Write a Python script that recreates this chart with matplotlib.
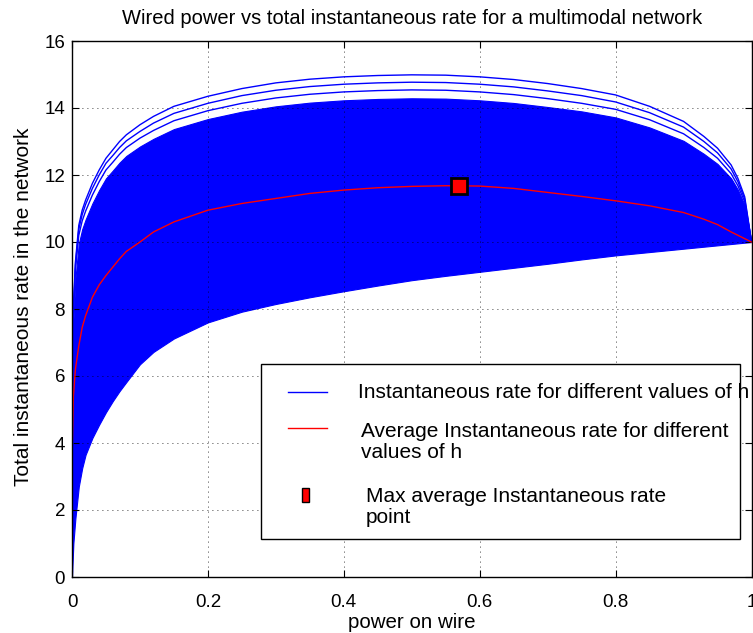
import matplotlib
matplotlib.use("Agg")
import matplotlib.pyplot as plt
from matplotlib.patches import Rectangle
from matplotlib.lines import Line2D

plt.rcParams['font.family'] = ['Liberation Sans', 'DejaVu Sans']

# power on wire (sample points)
power = [0, 0.002, 0.005, 0.01, 0.015, 0.02, 0.03, 0.04, 0.05, 0.06, 0.07, 0.08,
         0.1, 0.12, 0.15, 0.2, 0.25, 0.3, 0.35, 0.4, 0.45, 0.5,
         0.55, 0.6, 0.65, 0.7, 0.75, 0.8, 0.85, 0.9, 0.93, 0.95, 0.97, 0.98,
         0.99, 1.0]

# bottom edge of the bundle of instantaneous-rate curves
rate_low = [0, 1.0, 1.75, 2.7, 3.25, 3.65, 4.15, 4.55, 4.92, 5.25, 5.55, 5.82,
            6.35, 6.72, 7.12, 7.6, 7.92, 8.15, 8.35, 8.53, 8.7, 8.86,
            8.99, 9.11, 9.23, 9.35, 9.48, 9.6, 9.7, 9.8, 9.86, 9.9, 9.94, 9.96,
            9.98, 10.0]
# top edge of the dense part of the bundle
rate_dense = [0, 7.6, 8.9, 9.95, 10.38, 10.67, 11.15, 11.55, 11.9, 12.13, 12.37, 12.57,
              12.85, 13.08, 13.37, 13.67, 13.89, 14.05, 14.16, 14.23, 14.27, 14.29,
              14.28, 14.23, 14.15, 14.03, 13.9, 13.72, 13.42, 13.02, 12.63, 12.33,
              11.9, 11.56, 11.1, 10.0]
# single outer curves above the dense part
rate_top1 = [0, 8.0, 9.4, 10.5, 10.95, 11.25, 11.75, 12.15, 12.5, 12.75, 13.0, 13.2,
             13.5, 13.75, 14.05, 14.35, 14.58, 14.75, 14.86, 14.93, 14.97, 14.99,
             14.98, 14.93, 14.85, 14.73, 14.58, 14.39, 14.05, 13.6, 13.15, 12.8,
             12.3, 11.9, 11.35, 10.0]
rate_top2 = [0, 7.9, 9.3, 10.38, 10.82, 11.12, 11.6, 12.0, 12.35, 12.58, 12.82, 13.02,
             13.3, 13.55, 13.84, 14.14, 14.37, 14.53, 14.64, 14.71, 14.75, 14.77,
             14.76, 14.71, 14.63, 14.51, 14.37, 14.18, 13.86, 13.43, 13.0, 12.66,
             12.18, 11.8, 11.28, 10.0]
rate_top3 = [0, 7.8, 9.15, 10.2, 10.63, 10.92, 11.4, 11.8, 12.15, 12.38, 12.62, 12.82,
             13.1, 13.33, 13.62, 13.92, 14.14, 14.3, 14.41, 14.48, 14.52, 14.54,
             14.53, 14.48, 14.4, 14.28, 14.14, 13.96, 13.65, 13.23, 12.82, 12.5,
             12.04, 11.68, 11.2, 10.0]
# average instantaneous rate over h
rate_avg = [3.5, 5.4, 6.2, 6.9, 7.45, 7.8, 8.35, 8.72, 9.0, 9.25, 9.5, 9.72,
            10.0, 10.3, 10.6, 10.95, 11.15, 11.3, 11.45, 11.55, 11.62, 11.66,
            11.68, 11.67, 11.6, 11.48, 11.36, 11.23, 11.08, 10.88, 10.68, 10.52,
            10.3, 10.2, 10.1, 10.0]
# maximum of the average curve
p_max = 0.57
r_max = 11.68

fig = plt.figure(figsize=(7.53, 6.33), dpi=100)
ax = fig.add_axes([72 / 753, 56 / 633, 679.5 / 753, 536 / 633])

ax.fill_between(power, rate_low, rate_dense, color='#0000ff', lw=0.8,
                edgecolor='#0000ff')
for curve in (rate_top1, rate_top2, rate_top3):
    ax.plot(power, curve, color='#0000ff', lw=1.0)
ax.plot(power, rate_avg, color='#ff0000', lw=1.0)
ax.plot([p_max], [r_max], 's', ms=12, mfc='#ff0000', mec='black', mew=2)

ax.set_xlim(0, 1)
ax.set_ylim(0, 16)
ax.set_xticks([0, 0.2, 0.4, 0.6, 0.8, 1])
ax.set_xticklabels(['0', '0.2', '0.4', '0.6', '0.8', '1'])
ax.set_yticks(range(0, 17, 2))
ax.tick_params(direction='in', top=True, right=True, length=5, labelsize=13.5)
ax.tick_params(axis='x', pad=12)
ax.tick_params(axis='y', pad=5)
ax.grid(True, color='black', linestyle=(0, (1, 5)), linewidth=0.6)
for s in ax.spines.values():
    s.set_linewidth(1.0)

ax.set_title('Wired power vs total instantaneous rate for a multimodal network',
             fontsize=14.5, pad=12)
ax.set_xlabel('power on wire', fontsize=14.8)
ax.set_ylabel('Total instantaneous rate in the network', fontsize=15)
ax.xaxis.set_label_coords(0.5, -0.068)
ax.yaxis.set_label_coords(-0.057, 0.504)

# MATLAB-style legend box
tr = ax.transAxes
box = Rectangle((0.278, 0.0703), 0.7054, 0.3271, transform=tr, facecolor='white',
                edgecolor='black', lw=1.0, zorder=5)
ax.add_patch(box)
ax.add_line(Line2D([0.318, 0.3754], [0.3457, 0.3457], transform=tr,
                   color='#0000ff', lw=1.0, zorder=6))
ax.add_line(Line2D([0.318, 0.3754], [0.2786, 0.2786], transform=tr,
                   color='#ff0000', lw=1.0, zorder=6))
ax.add_patch(Rectangle((0.338, 0.139), 0.0112, 0.0272, transform=tr,
                       facecolor='#ff0000', edgecolor='black', lw=1.0, zorder=6))
kw = dict(transform=tr, fontsize=15, va='center', ha='left', zorder=7,
          clip_on=False, linespacing=1.15)
ax.text(0.4206, 0.345, 'Instantaneous rate for different values of h', **kw)
ax.text(0.426, 0.252, 'Average Instantaneous rate for different\nvalues of h', **kw)
ax.text(0.432, 0.131, 'Max average Instantaneous rate\npoint', **kw)

fig.savefig('out.png', dpi=100)
